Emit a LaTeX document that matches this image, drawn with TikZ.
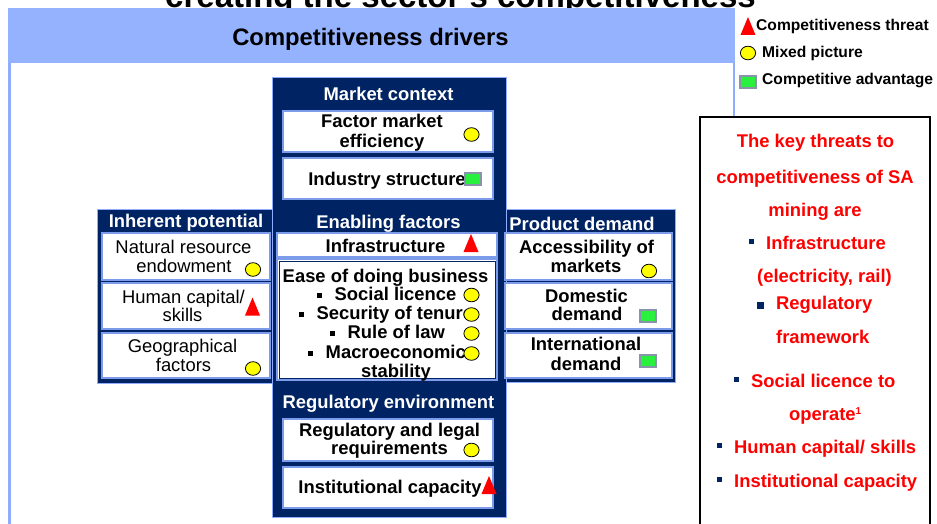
\documentclass[tikz,border=0pt]{standalone}
\usepackage{fontspec}
\setmainfont{Liberation Sans}
\definecolor{navy}{RGB}{0,36,99}
\definecolor{frameblue}{RGB}{143,172,255}
\definecolor{headblue}{RGB}{149,178,255}
\definecolor{boxblue}{RGB}{125,155,235}
\definecolor{mixyellow}{RGB}{255,255,0}
\definecolor{advgreen}{RGB}{40,240,60}
\definecolor{advgray}{RGB}{135,148,170}
\definecolor{threatred}{RGB}{255,0,0}
\newcommand\fs{\fontsize{18.4}{20}\selectfont}
\newcommand\fslegend{\fontsize{15.6}{17}\selectfont}
% small square bullets
\newcommand\blt{\rule[2.5pt]{4.5pt}{4.5pt}\hspace{13pt}}
\newcommand\rblt{\textcolor{navy}{\rule[5pt]{5pt}{5pt}}\hspace{12pt}}
\newcommand\rbltbig{\textcolor{navy}{\rule{7pt}{7pt}}\hspace{12pt}}
\tikzset{
  panel/.style={fill=navy, draw=frameblue, line width=1pt, inner sep=0pt, outer sep=0pt, anchor=north west},
  wbox/.style={fill=white, draw=boxblue, line width=1.4pt, inner sep=0pt, outer sep=0pt, anchor=north west},
  ptitle/.style={text=white, font=\bfseries\fs, anchor=base, inner sep=0pt},
  btxt/.style={font=\bfseries\fs, anchor=base, inner sep=0pt},
  ntxt/.style={font=\fs, anchor=base, inner sep=0pt},
  rtxt/.style={text=threatred, font=\bfseries\fs, anchor=base, inner sep=0pt},
  ltxt/.style={font=\bfseries\fslegend, anchor=base west, inner sep=0pt},
  threat/.pic={\fill[threatred] (-7.5,9) -- (7.5,9) -- (0,-9) -- cycle;},
  mixed/.pic={\draw[line width=0.8pt, fill=mixyellow] (0,0) ellipse [x radius=7.6, y radius=6.8];},
  advantage/.pic={\draw[advgray, line width=2pt, fill=advgreen] (-8,-6) rectangle (8,6);}
}
\begin{document}
\begin{tikzpicture}[x=1pt,y=-1pt]
\clip (0,0) rectangle (937,524);
\fill[white] (0,0) rectangle (937,524);

% page title, mostly cut off at the top
\node[font=\bfseries\fontsize{33}{36}\selectfont, anchor=base, inner sep=0pt] (title) at (460.5,8) {creating the sector's competitiveness};

% outer frame with header band
\draw[frameblue, line width=3pt] (9.5,8) -- (9.5,540);
\draw[frameblue, line width=2pt] (733.5,8) -- (733.5,540);
\fill[headblue] (8,8) rectangle (735,63);
\node[font=\bfseries\fontsize{23.8}{26}\selectfont, anchor=base, inner sep=0pt] (head) at (370.5,46) {Competitiveness drivers};

% side panels and central column
\node[panel, minimum width=178pt, minimum height=174pt] (inh) at (97,209) {};
\node[panel, minimum width=171pt, minimum height=173pt] (prod) at (504,209) {};
\node[panel, minimum width=234pt, minimum height=439pt] (col) at (272,78) {};

% market context
\node[ptitle] (mkt) at (388.5,101) {Market context};
\node[wbox, minimum width=210pt, minimum height=41pt] (fme) at (283,111) {};
\node[btxt] (fme1) at (382,128) {Factor market};
\node[btxt] (fme2) at (382,147) {efficiency};
\node[wbox, minimum width=210pt, minimum height=41pt] (ind) at (283,158) {};
\node[btxt] (ind1) at (387,185) {Industry structure};
\pic at (471.5,134.5) {mixed};
\pic at (473,179) {advantage};

% enabling factors
\node[ptitle] (enab) at (388.5,228) {Enabling factors};
\node[wbox, minimum width=220pt, minimum height=24pt] (infra) at (277,233) {};
\node[btxt] (infra1) at (385.5,252) {Infrastructure};
\pic at (471,243) {threat};
\node[wbox, minimum width=220pt, minimum height=121pt] (ease) at (277,259) {};
\draw[navy, line width=1pt] (279,261.5) rectangle (495,378);
\node[btxt] (ease1) at (385.5,282) {Ease of doing business};
\node[btxt, anchor=base west] (ease2) at (317,300) {\blt Social licence};
\node[btxt, anchor=base west] (ease3) at (299,319) {\blt Security of tenure};
\node[btxt, anchor=base west] (ease4) at (330,338) {\blt Rule of law};
\node[btxt, anchor=base west] (ease5) at (308,358) {\blt Macroeconomic};
\node[btxt] (ease6) at (396,377) {stability};
\pic at (471.5,295) {mixed};
\pic at (471.5,314.5) {mixed};
\pic at (471.5,333.5) {mixed};
\pic at (471.5,353.5) {mixed};

% regulatory environment
\node[ptitle] (reg) at (388.5,408) {Regulatory environment};
\node[wbox, minimum width=210pt, minimum height=42pt] (legal) at (283,419) {};
\node[btxt] (legal1) at (389.5,436) {Regulatory and legal};
\node[btxt] (legal2) at (389.5,454) {requirements};
\pic at (471.5,450) {mixed};
\node[wbox, minimum width=210pt, minimum height=41pt] (inst) at (283,467) {};
\node[btxt] (inst1) at (390,493) {Institutional capacity};
\pic at (489,485) {threat};

% inherent potential
\node[ptitle] (inht) at (186,227) {Inherent potential};
\node[wbox, minimum width=168pt, minimum height=47pt] (nat) at (102,233) {};
\node[ntxt] (nat1) at (183.5,253) {Natural resource};
\node[ntxt] (nat2) at (184,272) {endowment};
\pic at (253,269.5) {mixed};
\node[wbox, minimum width=168pt, minimum height=46pt] (hum) at (102,283) {};
\node[ntxt] (hum1) at (183.5,303) {Human capital/};
\node[ntxt] (hum2) at (182.5,321) {skills};
\pic at (252.5,306.5) {threat};
\node[wbox, minimum width=168pt, minimum height=45pt] (geo) at (102,333) {};
\node[ntxt] (geo1) at (182.5,352) {Geographical};
\node[ntxt] (geo2) at (183.5,371) {factors};
\pic at (253,368.5) {mixed};

% product demand
\node[ptitle] (prodt) at (582,230) {Product demand};
\node[wbox, minimum width=167pt, minimum height=47pt] (acc) at (505,233) {};
\node[btxt] (acc1) at (586.5,253) {Accessibility of};
\node[btxt] (acc2) at (586,272) {markets};
\pic at (649,271) {mixed};
\node[wbox, minimum width=167pt, minimum height=46pt] (dom) at (505,283) {};
\node[btxt] (dom1) at (586.5,302) {Domestic};
\node[btxt] (dom2) at (587,320) {demand};
\pic at (648,315.5) {advantage};
\node[wbox, minimum width=167pt, minimum height=45pt] (intl) at (505,333) {};
\node[btxt] (intl1) at (586,350) {International};
\node[btxt] (intl2) at (586,370) {demand};
\pic at (648,361) {advantage};

% legend
\pic at (748,26) {threat};
\node[ltxt] (lg1) at (756,31) {Competitiveness threat};
\pic at (748,53) {mixed};
\node[ltxt] (lg2) at (762,58) {Mixed picture};
\pic at (748,82.5) {advantage};
\node[ltxt] (lg3) at (762,85) {Competitive advantage};

% key threats box
\draw[black, line width=2pt, fill=white] (700,117) rectangle (930,560);
\node[rtxt] (k1) at (815.5,148) {The key threats to};
\node[rtxt] (k2) at (815,183) {competitiveness of SA};
\node[rtxt] (k3) at (815,216) {mining are};
\node[rtxt, anchor=base west] (k4) at (749,249) {\rblt Infrastructure};
\node[rtxt, anchor=base west] (k5) at (757,282) {(electricity, rail)};
\node[rtxt, anchor=base west] (k6) at (757,309) {\rbltbig Regulatory};
\node[rtxt, anchor=base west] (k7) at (776,343) {framework};
\node[rtxt, anchor=base west] (k8) at (734,387) {\rblt Social licence to};
\node[rtxt, anchor=base west] (k9) at (789,420) {operate\raisebox{6pt}{\fontsize{10}{10}\selectfont 1}};
\node[rtxt, anchor=base west] (k10) at (717,453) {\rblt Human capital/ skills};
\node[rtxt, anchor=base west] (k11) at (717,487) {\rblt Institutional capacity};
\end{tikzpicture}
\end{document}
